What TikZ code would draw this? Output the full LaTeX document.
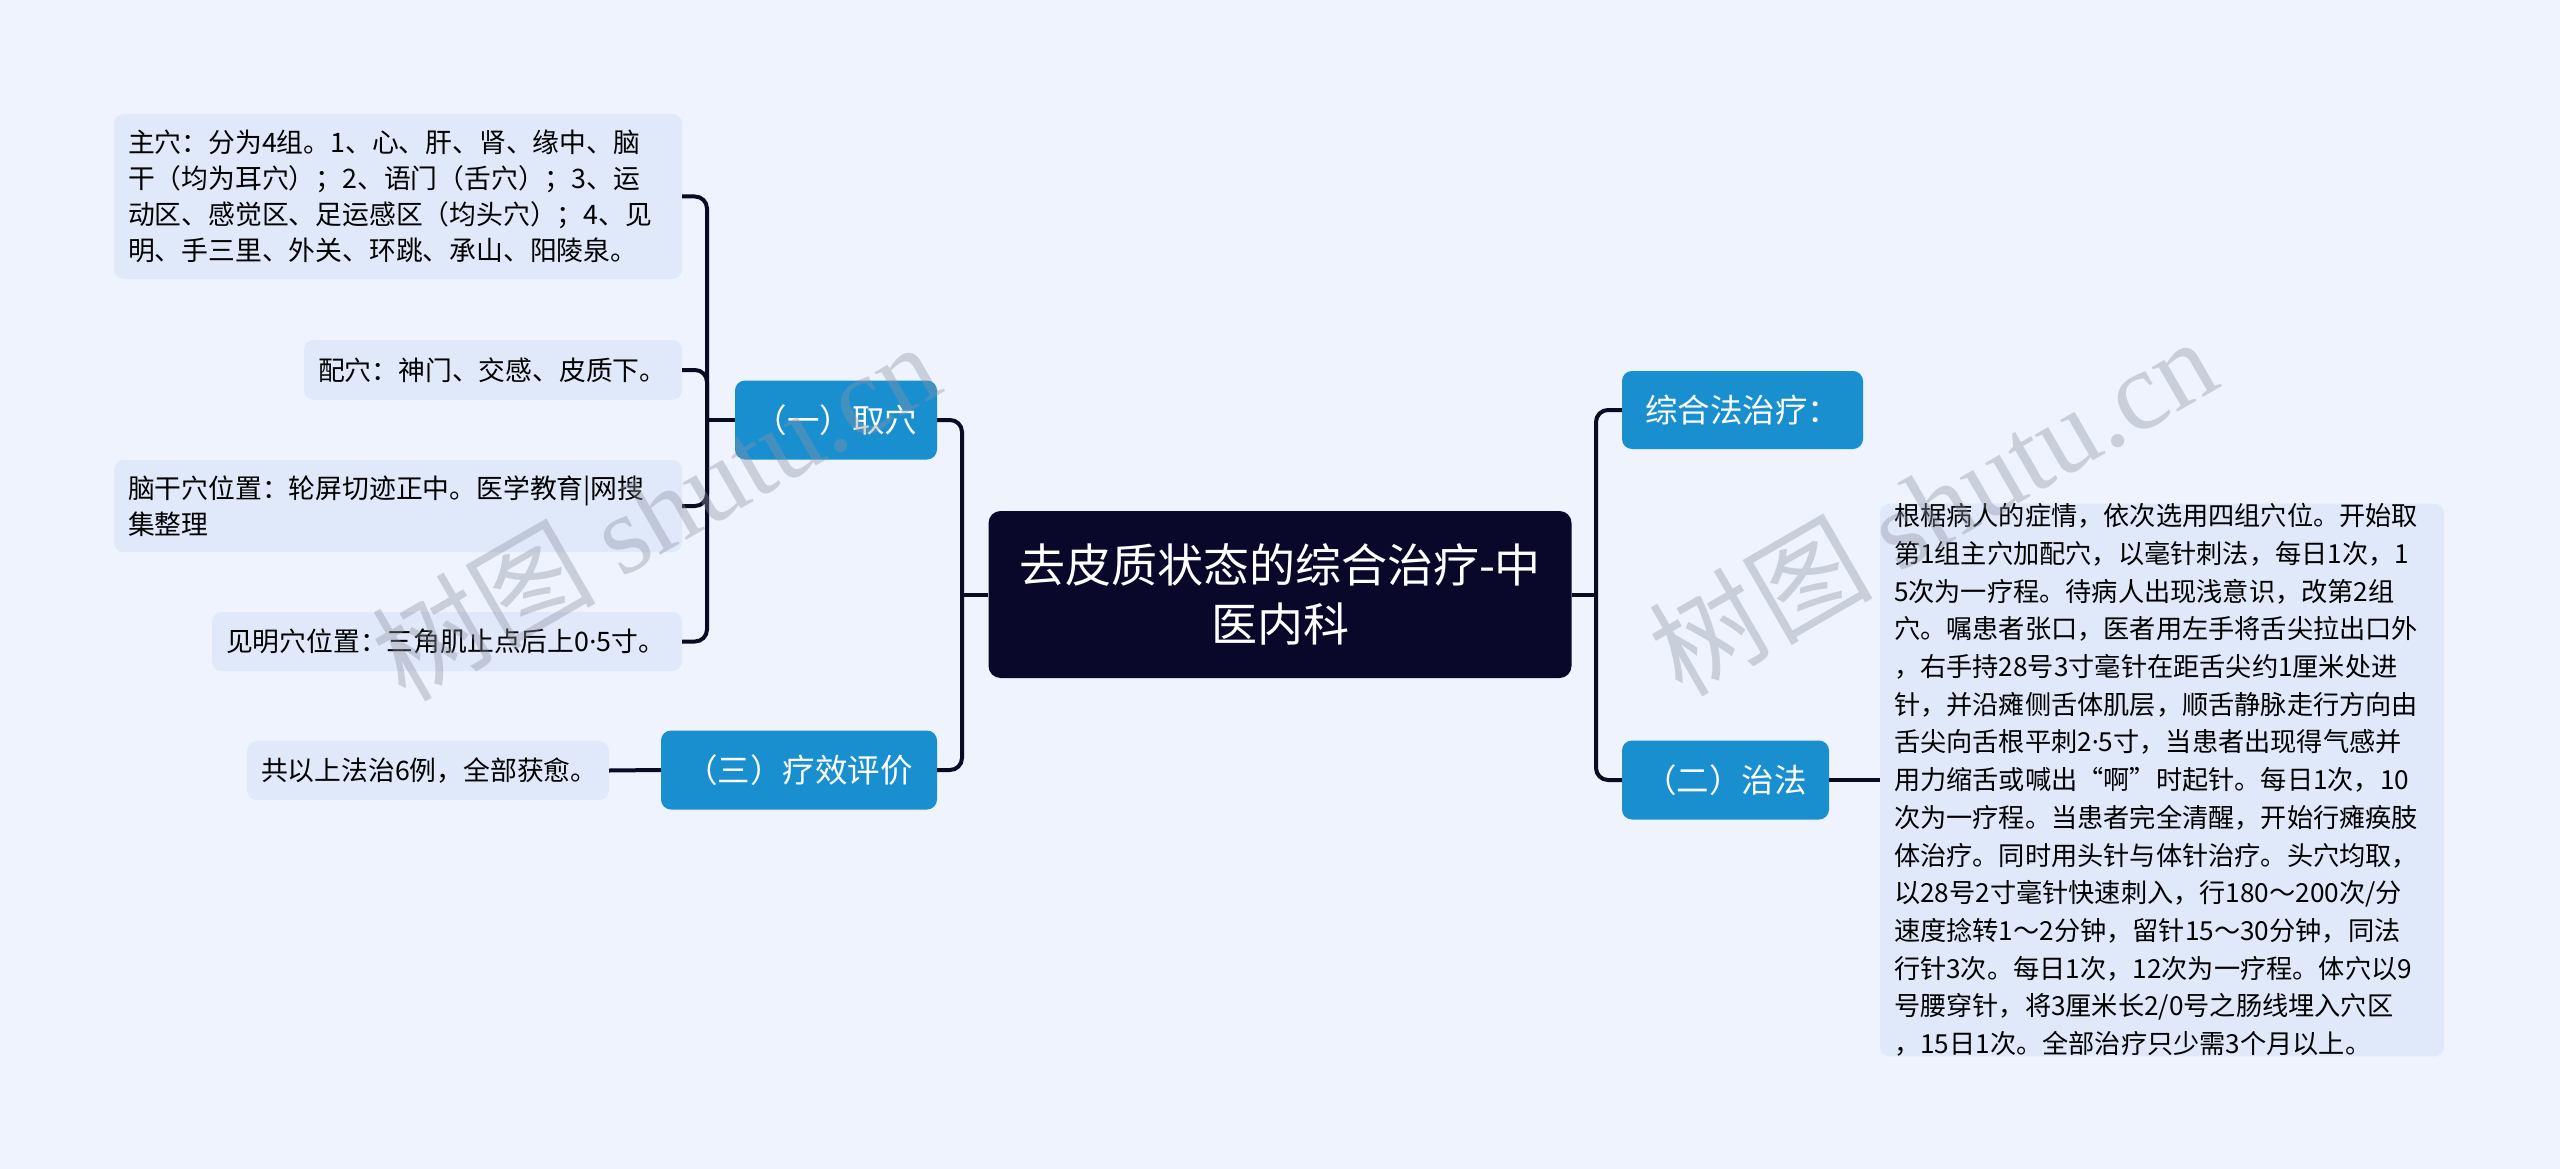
\documentclass[tikz,border=0pt]{standalone}
\usepackage{fontspec}
\setmainfont{Noto Sans CJK SC}
\newfontfamily\wmserif{Liberation Serif}
\newfontfamily\latinf{Noto Sans}
\newcommand{\mdt}{{\latinf ·}}
\definecolor{bgc}{RGB}{238,243,253}
\definecolor{leafc}{RGB}{223,233,250}
\definecolor{bluec}{RGB}{25,143,208}
\definecolor{rootc}{RGB}{9,7,42}
\definecolor{linec}{RGB}{10,10,35}
\definecolor{wmc}{RGB}{140,146,162}
\begin{document}
\begin{tikzpicture}[x=1pt,y=-1pt,
  leaf/.style={fill=leafc, rounded corners=10pt, inner xsep=14pt, inner ysep=0pt,
    align=left, font=\fontsize{26.8}{36}\selectfont, text=black},
  topic/.style={fill=bluec, rounded corners=10pt, text=white, inner sep=0pt,
    font=\fontsize{32.5}{40}\selectfont, align=center},
  rootn/.style={fill=rootc, rounded corners=12pt, text=white, inner sep=0pt,
    font=\fontsize{46}{59}\selectfont, align=center},
  conn/.style={draw=linec, line width=4pt, rounded corners=12pt},
  wm/.style={text=wmc, text opacity=0.38, font=\fontsize{112}{116}\selectfont, inner sep=0pt}]
\useasboundingbox[fill=bgc] (0,0) rectangle (2560,1169);

% nodes
\node[rootn, minimum width=583pt, minimum height=167pt] (root) at (1280,594.5) {去皮质状态的综合治疗-中\\医内科};

\node[topic, minimum width=202pt, minimum height=79pt] (qx) at (836,420) {（一）取穴};
\node[topic, minimum width=276pt, minimum height=79pt] (lx) at (799,770) {（三）疗效评价};
\node[topic, minimum width=241pt, minimum height=78pt] (zh) at (1742.5,410) {综合法治疗：};
\node[topic, minimum width=207pt, minimum height=79pt] (zf) at (1725.5,780) {（二）治法};

\node[leaf, text width=540pt, minimum height=165pt] (L1) at (398,196.5) {主穴：分为4组。1、心、肝、肾、缘中、脑\\干（均为耳穴）；2、语门（舌穴）；3、运\\动区、感觉区、足运感区（均头穴）；4、见\\明、手三里、外关、环跳、承山、阳陵泉。};
\node[leaf, text width=350pt, minimum height=60pt] (L2) at (493,370) {配穴：神门、交感、皮质下。};
\node[leaf, text width=540pt, minimum height=92pt] (L3) at (398,506) {脑干穴位置：轮屏切迹正中。医学教育|网搜\\集整理};
\node[leaf, text width=442pt, minimum height=59pt] (L4) at (447,641.5) {见明穴位置：三角肌止点后上0\mdt 5寸。};
\node[leaf, text width=334pt, minimum height=59pt] (L5) at (428,770.5) {共以上法治6例，全部获愈。};

\node[leaf, text width=536pt, minimum height=546pt, font=\fontsize{26.2}{37.7}\selectfont] (R) at (2162,780) {根椐病人的症情，依次选用四组穴位。开始取\\第1组主穴加配穴，以毫针刺法，每日1次，1\\5次为一疗程。待病人出现浅意识，改第2组\\穴。嘱患者张口，医者用左手将舌尖拉出口外\\，右手持28号3寸毫针在距舌尖约1厘米处进\\针，并沿瘫侧舌体肌层，顺舌静脉走行方向由\\舌尖向舌根平刺2\mdt 5寸，当患者出现得气感并\\用力缩舌或喊出“啊”时起针。每日1次，10\\次为一疗程。当患者完全清醒，开始行瘫痪肢\\体治疗。同时用头针与体针治疗。头穴均取，\\以28号2寸毫针快速刺入，行180～200次/分\\速度捻转1～2分钟，留针15～30分钟，同法\\行针3次。每日1次，12次为一疗程。体穴以9\\号腰穿针，将3厘米长2/0号之肠线埋入穴区\\，15日1次。全部治疗只少需3个月以上。};

% junction coordinates
\coordinate (lb) at (962,594.5);
\coordinate (bl) at (707,420);
\coordinate (rb) at (1596,594.5);

% connectors
\draw[conn] (root.west) -- (lb);
\draw[conn] (qx.east) -| (lb) |- (lx.east);
\draw[conn] (qx.west) -- (bl);
\draw[conn] (L1.east) -| (bl) |- (L4.east);
\draw[conn] (L2.east) -| (bl);
\draw[conn] (L3.east) -| (bl);
\draw[conn] (lx.west) -- (L5.east);
\draw[conn] (root.east) -- (rb);
\draw[conn] (zh.west) -| (rb) |- (zf.west);
\draw[conn] (zf.east) -- (R.west);

% watermarks
\node[wm, rotate=30] (wm1) at (655,510) {树图 {\wmserif shutu.cn}};
\node[wm, rotate=30] (wm2) at (1932,505) {树图 {\wmserif shutu.cn}};
\end{tikzpicture}
\end{document}
